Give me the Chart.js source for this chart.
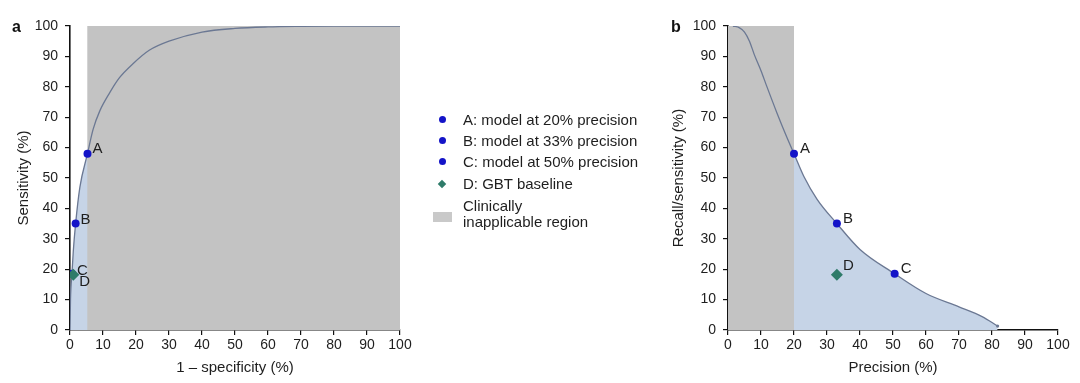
<!DOCTYPE html>
<html><head><meta charset="utf-8">
<script src="https://cdn.jsdelivr.net/npm/chart.js@4/dist/chart.umd.min.js"></script>
<style>
body{margin:0;background:#fff;width:1080px;height:383px;position:relative;overflow:hidden;font-family:"Liberation Sans",Arial,sans-serif;color:#1e1e1e}
.box{position:absolute;top:0;height:383px}
#wa{left:0;width:420px}
#wb{left:660px;width:420px}
.panel{position:absolute;font-weight:bold;font-size:16px;line-height:16px;color:#111}
#legend{position:absolute;left:430px;top:0;width:230px;height:383px;font-size:15px}
.li{position:absolute;left:33px;white-space:nowrap;line-height:16px}
.dot{position:absolute;left:9px;width:7px;height:7px;border-radius:50%;background:#1414c8}
.dia{position:absolute;left:9px;width:6px;height:6px;background:#2e7b69;transform:rotate(45deg)}
.sw{position:absolute;left:3px;width:19px;height:10px;background:#c9c9c9}
</style></head><body>
<div class="box" id="wa"><canvas id="ca"></canvas></div>
<div class="box" id="wb"><canvas id="cb"></canvas></div>
<div class="panel" style="left:12px;top:19px">a</div>
<div class="panel" style="left:671px;top:19px">b</div>
<div id="legend">
  <div class="dot" style="top:116px"></div><div class="li" style="top:112px">A: model at 20% precision</div>
  <div class="dot" style="top:137px"></div><div class="li" style="top:133px">B: model at 33% precision</div>
  <div class="dot" style="top:158px"></div><div class="li" style="top:154px">C: model at 50% precision</div>
  <div class="dia" style="top:181px"></div><div class="li" style="top:176px">D: GBT baseline</div>
  <div class="sw" style="top:212px"></div>
  <div class="li" style="top:198px">Clinically</div>
  <div class="li" style="top:214px">inapplicable region</div>
</div>
<script>
// ---- data ----
const xTickValues = [0,10,20,30,40,50,60,70,80,90,100];
const yTickValues = [0,10,20,30,40,50,60,70,80,90,100];

// ROC curve (panel a)
const rocFpr = [0, 0.15, 0.6, 1.0, 1.7, 3.0, 5.3, 7, 9, 12, 15, 19, 24, 30, 40, 50, 60, 70, 80, 100];
const rocTpr = [0, 10, 18.5, 26, 35, 47, 58, 66, 72, 78, 83, 87.5, 92, 95, 98, 99.2, 99.7, 99.9, 100, 100];

// Precision-recall curve (panel b)
const prPrecision = [1.5, 3.5, 5, 6.5, 8, 10, 11.7, 14.8, 17.8, 20, 23, 27, 33, 40, 50.5, 60, 70, 77, 81.7];
const prRecall    = [100, 99.4, 98, 95, 90.5, 85.3, 80.3, 71.5, 63.5, 58, 50.5, 43, 35, 26.5, 18.5, 12, 7.6, 4.4, 1.3];

// operating points
const modelNames = ['A', 'B', 'C'];
const modelFpr = [5.3, 1.7, 0.6];
const modelSensitivity = [58, 35, 18.5];
const modelPrecision = [20, 33, 50.5];
const gbtName = ['D'];
const gbtFpr = [1.0];
const gbtSensitivity = [18.2];
const gbtPrecision = [33];

// clinically inapplicable regions (x-range)
const rocInapplicable = [5.2, 100];
const prInapplicable = [0, 20];

// ---- styles ----
const FONT = '"Liberation Sans", Arial, sans-serif';
const GREY = '#c3c3c3';
const BLUEFILL = '#c6d4e7';
const CURVE = '#6b7893';
const PT_BLUE = '#1414c8';
const PT_GREEN = '#2e7b69';

const zip = (xs, ys) => xs.map((x, i) => ({x, y: ys[i]}));

const pointLabelPlugin = {
  id: 'pointLabels',
  afterDatasetsDraw(chart, args, opts) {
    const ctx = chart.ctx;
    ctx.save();
    ctx.font = '15px ' + FONT;
    ctx.fillStyle = '#1e1e1e';
    ctx.textBaseline = 'middle';
    ctx.textAlign = 'left';
    chart.data.datasets.forEach((ds, i) => {
      if (!ds.pointNames) return;
      const meta = chart.getDatasetMeta(i);
      meta.data.forEach((el, j) => {
        const name = ds.pointNames[j];
        const off = (opts.offsets && opts.offsets[name]) || [6, -5];
        ctx.fillText(name, el.x + off[0], el.y + off[1]);
      });
    });
    ctx.restore();
  }
};

function scales(xTitle, yTitle, yWidth) {
  const common = {
    type: 'linear', min: 0, max: 100,
    grid: {display: true, drawOnChartArea: false, drawTicks: true, tickLength: 5, color: '#111', lineWidth: 1.2},
    border: {display: true, color: '#111', width: 1.6},
  };
  return {
    x: Object.assign({}, common, {
      afterBuildTicks: s => { s.ticks = xTickValues.map(v => ({value: v})); },
      ticks: {color: '#1e1e1e', font: {family: FONT, size: 14}, padding: 2, maxRotation: 0, autoSkip: false},
      title: {display: true, text: xTitle, color: '#1e1e1e', font: {family: FONT, size: 15}, padding: {top: 4, bottom: 0}},
      afterFit: s => { s.height = 47; }
    }),
    y: Object.assign({}, common, {
      afterBuildTicks: s => { s.ticks = yTickValues.map(v => ({value: v})); },
      ticks: {color: '#1e1e1e', font: {family: FONT, size: 14}, padding: 7, autoSkip: false},
      title: {display: true, text: yTitle, color: '#1e1e1e', font: {family: FONT, size: 15}, padding: {top: 0, bottom: 0}},
      afterFit: s => { s.width = yWidth; }
    })
  };
}

function makeChart(id, cfg) {
  return new Chart(document.getElementById(id), {
    type: 'line',
    data: {datasets: cfg.datasets},
    options: {
      responsive: true, maintainAspectRatio: false, animation: false,
      layout: {padding: cfg.padding},
      plugins: {legend: {display: false}, tooltip: {enabled: false}, pointLabels: {offsets: cfg.offsets}},
      scales: scales(cfg.xTitle, cfg.yTitle, cfg.yWidth),
      elements: {line: {cubicInterpolationMode: 'monotone'}}
    },
    plugins: [pointLabelPlugin]
  });
}

// Panel a: ROC
makeChart('ca', {
  padding: {left: 15, right: 20, top: 26, bottom: 6},
  yWidth: 55,
  xTitle: '1 \u2013 specificity (%)',
  yTitle: 'Sensitivity (%)',
  offsets: {A: [5, -5], B: [5, -4], C: [5, -3], D: [6, 7]},
  datasets: [
    {label: 'D: GBT baseline', data: zip(gbtFpr, gbtSensitivity), pointNames: gbtName, showLine: false,
     pointStyle: 'rectRot', pointRadius: 6, backgroundColor: PT_GREEN, borderColor: PT_GREEN, borderWidth: 0, order: 0},
    {label: 'models', data: zip(modelFpr, modelSensitivity), pointNames: modelNames, showLine: false,
     pointRadius: 4, backgroundColor: PT_BLUE, borderColor: PT_BLUE, borderWidth: 0, order: 1},
    {label: 'ROC', data: zip(rocFpr, rocTpr), borderColor: CURVE, borderWidth: 1.3, pointRadius: 0, fill: false, order: 2},
    {label: 'Clinically inapplicable region', data: zip(rocInapplicable, [100, 100]), borderWidth: 0, pointRadius: 0,
     backgroundColor: GREY, fill: 'origin', tension: 0, order: 3},
    {label: 'ROC area', data: zip(rocFpr, rocTpr), borderWidth: 0, pointRadius: 0, backgroundColor: BLUEFILL, fill: 'origin', order: 4}
  ]
});

// Panel b: precision-recall
makeChart('cb', {
  padding: {left: 10, right: 22, top: 26, bottom: 6},
  yWidth: 58,
  xTitle: 'Precision (%)',
  yTitle: 'Recall/sensitivity (%)',
  offsets: {A: [6, -5], B: [6, -5], C: [6, -5], D: [6, -9]},
  datasets: [
    {label: 'D: GBT baseline', data: zip(gbtPrecision, gbtSensitivity), pointNames: gbtName, showLine: false,
     pointStyle: 'rectRot', pointRadius: 6, backgroundColor: PT_GREEN, borderColor: PT_GREEN, borderWidth: 0, order: 0},
    {label: 'models', data: zip(modelPrecision, modelSensitivity), pointNames: modelNames, showLine: false,
     pointRadius: 4, backgroundColor: PT_BLUE, borderColor: PT_BLUE, borderWidth: 0, order: 1},
    {label: 'PR', data: zip(prPrecision, prRecall), borderColor: CURVE, borderWidth: 1.3, fill: false, order: 2,
     pointRadius: c => c.dataIndex === prPrecision.length - 1 ? 1.6 : 0, pointBackgroundColor: CURVE, pointBorderWidth: 0},
    {label: 'Clinically inapplicable region', data: zip(prInapplicable, [100, 100]), borderWidth: 0, pointRadius: 0,
     backgroundColor: GREY, fill: 'origin', tension: 0, order: 3},
    {label: 'PR area', data: zip(prPrecision, prRecall), borderWidth: 0, pointRadius: 0, backgroundColor: BLUEFILL, fill: 'origin', order: 4}
  ]
});
</script>
</body></html>
